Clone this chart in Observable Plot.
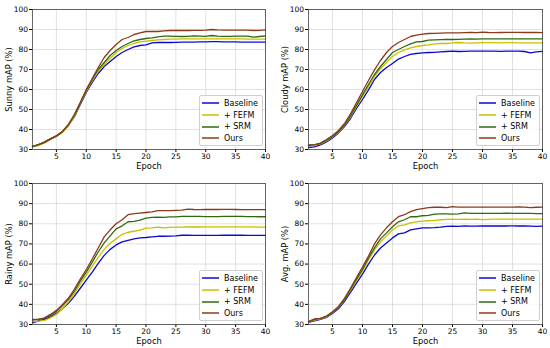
<!DOCTYPE html>
<html><head><meta charset="utf-8">
<script src="https://cdn.jsdelivr.net/npm/d3@7"></script>
<script src="https://cdn.jsdelivr.net/npm/@observablehq/plot@0.6"></script>
<style>
html,body{margin:0;padding:0;background:#fff;}
#grid{display:grid;grid-template-columns:275px 275px;grid-template-rows:174px 174px;width:550px;height:348px;}
.cell{position:relative;width:275px;height:174px;}
.legend{position:absolute;background:rgba(255,255,255,0.85);border:1px solid #d0d0d0;border-radius:2px;font-family:"DejaVu Sans",sans-serif;font-size:8px;color:#000;padding:2px 3px 1px 2px;box-sizing:border-box;}
.legend .row{display:flex;align-items:center;height:11.6px;}
.legend svg{margin-right:5px;display:block;}
</style>
</head><body>
<div id="grid"></div>
<script>
const epochs = [1,2,3,4,5,6,7,8,9,10,11,12,13,14,15,16,17,18,19,20,21,22,23,24,25,26,27,28,29,30,31,32,33,34,35,36,37,38,39,40];
const seriesNames = ["Baseline","+ FEFM","+ SRM","Ours"];
const seriesColors = ["#0a0ad0","#c8c000","#2f6a10","#8b3a1a"];
const xTicks = [5,10,15,20,25,30,35,40];
const yTicks = [30,40,50,60,70,80,90,100];
const panelLabels = ["Sunny mAP (%)","Cloudy mAP (%)","Rainy mAP (%)","Avg. mAP (%)"];

// Sunny
const sunnyBaseline = [31.5,32.5,33.7,35.3,36.8,38.8,42,46.3,52.5,58.5,63.5,68,71.5,74,76.5,78.5,80,81.3,82,82.3,83.3,83.5,83.5,83.5,83.6,83.7,83.7,83.7,83.8,83.8,83.9,83.9,83.8,83.8,83.8,83.7,83.7,83.7,83.7,83.7];
const sunnyFEFM = [31.3,32.0,33.2,35.0,36.5,38.5,41.8,46.5,53,59,64.5,69,72.5,75.5,78.5,80.5,82,83,83.8,84.2,84.5,84.8,85,85.2,85.2,85.3,85.3,85.3,85.3,85.3,85.3,85.3,85.3,85.3,85.3,85.3,85.2,85.2,85.2,85.2];
const sunnySRM = [31.5,32.3,33.5,35.2,36.7,38.8,42.3,47,53.3,59.5,65,70,73.5,77,79.5,81.5,83,84.3,85,85.5,85.8,86.3,86.7,86.7,86.6,86.5,86.6,86.8,86.7,86.6,87,86.7,86.6,86.6,86.7,86.7,86.7,86.2,86.5,86.8];
const sunnyOurs = [31.5,32.5,33.7,35.3,36.8,39,42.5,47.5,53.5,60,65.5,71,76,79.5,82.5,85,86,87.5,88.3,89,89,89,89.3,89.5,89.5,89.5,89.5,89.6,89.6,89.7,90,89.8,89.7,89.7,89.7,89.7,89.7,89.5,89.6,89.8];
// Cloudy
const cloudyBaseline = [31,31.3,32.3,33.8,35.8,38.3,41.5,45.5,50.5,55,59.8,65,68.5,71,73,75.2,76.5,77.6,78,78.3,78.5,78.6,78.8,79,79.2,79,79.1,79.2,79.2,79.2,79.2,79.2,79.1,79.2,79.2,79.2,79,78.3,78.8,79.1];
const cloudyFEFM = [32.2,32.3,32.8,34.3,36.3,38.8,42,46.3,51.5,56.5,61.5,66.5,70.5,73.5,76.5,78.5,79.8,80.8,81.5,82,82.3,82.8,83,83,83.3,83.5,83.3,83.2,83.3,83.4,83.4,83.4,83.3,83.4,83.4,83.3,83.3,83.3,83.3,83.3];
const cloudySRM = [32.3,32.4,33,34.5,36.5,39,42.3,46.8,52,57.3,62.5,67.5,71.5,75,78.5,80,81.5,82.8,83.8,84,84.7,84.8,84.9,85,85,85.1,85.2,85.3,85.2,85.3,85.3,85.3,85.3,85.3,85.3,85.3,85.3,85.3,85.3,85.3];
const cloudyOurs = [32,32.3,33.2,35,37,39.5,43,47.8,53.3,59,64.5,69.8,74.5,78.5,81.5,83.5,85,86.5,87.2,87.7,88,88.1,88.2,88.3,88.3,88.3,88.4,88.5,88.4,88.7,88.5,88.4,88.5,88.6,88.6,88.6,88.5,88.5,88.5,88.4];
// Rainy
const rainyBaseline = [30.8,31.8,32.5,33.8,35.5,37.8,40.5,44,48,52,56,60.3,64.3,67.3,69.5,71,71.8,72.5,73,73.2,73.5,73.8,73.8,73.9,74,74.3,74.3,74.2,74.2,74.2,74.2,74.2,74.3,74.3,74.3,74.3,74.2,74.2,74.2,74.2];
const rainyFEFM = [31.5,31.7,32,33.3,35,37.8,41.3,45.3,50,54.5,59,63.3,67.3,70.3,72.5,74.8,75.8,76.3,76.8,77.8,78,78.3,78,78.2,78.3,78.3,78.4,78.4,78.4,78.5,78.5,78.5,78.5,78.5,78.5,78.5,78.5,78.5,78.3,78.3];
const rainySRM = [32.5,32.6,33,34.5,36.5,39.3,42.5,46.5,51.5,56,61,66,70.5,74,77.5,79,81,81.2,81.8,82.8,83.2,83.3,83.2,83.4,83.4,83.7,83.7,83.7,83.7,83.6,83.6,83.6,83.7,83.7,83.7,83.7,83.6,83.6,83.5,83.5];
const rainyOurs = [32.2,32.5,33.3,35,37,39.8,43,47.5,52.5,57.3,62.5,68,73.5,77,80,82,84.5,85,85.3,85.6,85.9,86.5,86.5,86.5,86.7,86.8,87.3,87.1,87,87.1,87.1,87.1,87.2,87.2,87.1,87,87,87,87,87];
// Avg
const avgBaseline = [31,31.8,32.5,33.5,35.5,37.8,41.5,46,50.5,55,60,64.5,68,70.5,73,75,75.5,77,77.5,78,78,78.1,78.3,78.7,78.8,78.7,79,78.8,78.8,78.9,78.9,78.9,78.9,78.9,79,78.9,78.9,78.8,78.7,78.8];
const avgFEFM = [31.2,32.2,32.8,33.8,35.8,38.3,42.3,47,51.8,56.5,62,67,71,74,77,79,79.5,80.5,81,81.3,81.5,81.7,82,82.2,82.3,82.2,82.3,82.2,82.3,82.1,82.2,82.3,82.3,82.3,82.3,82.3,82.3,82.3,82.3,82.3];
const avgSRM = [31.3,32.5,33,34,36,38.5,42.5,47.5,52.5,57.3,63,68,72.5,75.5,78.5,81,82,83.5,83.5,84,84.2,84.8,84.9,84.9,84.8,84.9,85.4,85.2,85.2,85.2,85.2,85.2,85.2,85.3,85.2,85.2,85.2,85.2,85,85];
const avgOurs = [31.5,32.8,33,34.2,36.3,39,43,48,53.3,58.5,64,70,74.5,78,81,83.5,84.5,86,87,87.5,88,88.2,88.2,88,88.5,88.3,88.3,88.3,88.3,88.3,88.3,88.3,88.3,88.3,88.3,88.4,88.3,88,88.2,88.3];

const panels = [
  [sunnyBaseline, sunnyFEFM, sunnySRM, sunnyOurs],
  [cloudyBaseline, cloudyFEFM, cloudySRM, cloudyOurs],
  [rainyBaseline, rainyFEFM, rainySRM, rainyOurs],
  [avgBaseline, avgFEFM, avgSRM, avgOurs]
];
const layout = [
  {ml:32, mr:10, mt:9, mb:25},
  {ml:33, mr:8, mt:9, mb:25},
  {ml:32, mr:10, mt:9, mb:24},
  {ml:33, mr:8, mt:9, mb:24}
];

const grid = document.getElementById("grid");
panels.forEach((series, pi) => {
  const rows = [];
  series.forEach((vals, si) => vals.forEach((v, i) => rows.push({epoch: epochs[i], value: v, name: seriesNames[si]})));
  const L = layout[pi];
  const chart = Plot.plot({
    width: 275, height: 174,
    marginLeft: L.ml, marginRight: L.mr, marginTop: L.mt, marginBottom: L.mb,
    style: {fontFamily: "DejaVu Sans, sans-serif", fontSize: "7.5px", color: "#000", background: "#fff"},
    x: {domain: [1, 40]},
    y: {domain: [30, 100]},
    color: {domain: seriesNames, range: seriesColors},
    marks: [
      Plot.gridX(xTicks, {stroke: "#b0b0b0", strokeOpacity: 0.55, strokeWidth: 0.7}),
      Plot.gridY(yTicks, {stroke: "#b0b0b0", strokeOpacity: 0.55, strokeWidth: 0.7}),
      Plot.axisX(xTicks, {tickSize: 3, tickPadding: 1.5, label: "Epoch", labelAnchor: "center", labelArrow: "none", labelOffset: 19, fontSize: 7.5}),
      Plot.axisY(yTicks, {tickSize: 3, tickPadding: 1.5, label: panelLabels[pi], labelAnchor: "center", labelArrow: "none", labelOffset: 26, fontSize: 7.5}),
      Plot.line(rows, {x: "epoch", y: "value", z: "name", stroke: "name", strokeWidth: 1.3}),
      Plot.frame({stroke: "#444", strokeWidth: 0.8})
    ]
  });
  chart.querySelectorAll("g[aria-label='x-axis label'] text, g[aria-label='y-axis label'] text").forEach(t => t.setAttribute("font-size", "8.3"));
  const cell = document.createElement("div");
  cell.className = "cell";
  cell.appendChild(chart);
  const leg = document.createElement("div");
  leg.className = "legend";
  leg.style.right = (L.mr + 2) + "px";
  leg.style.bottom = (L.mb + 3) + "px";
  leg.style.width = "64px";
  seriesNames.forEach((n, i) => {
    const r = document.createElement("div");
    r.className = "row";
    r.innerHTML = `<svg width="17" height="4"><line x1="0" y1="2" x2="17" y2="2" stroke="${seriesColors[i]}" stroke-width="1.5"/></svg>`;
    const t = document.createElement("span");
    t.textContent = n;
    r.appendChild(t);
    leg.appendChild(r);
  });
  cell.appendChild(leg);
  grid.appendChild(cell);
});
</script>
</body></html>
